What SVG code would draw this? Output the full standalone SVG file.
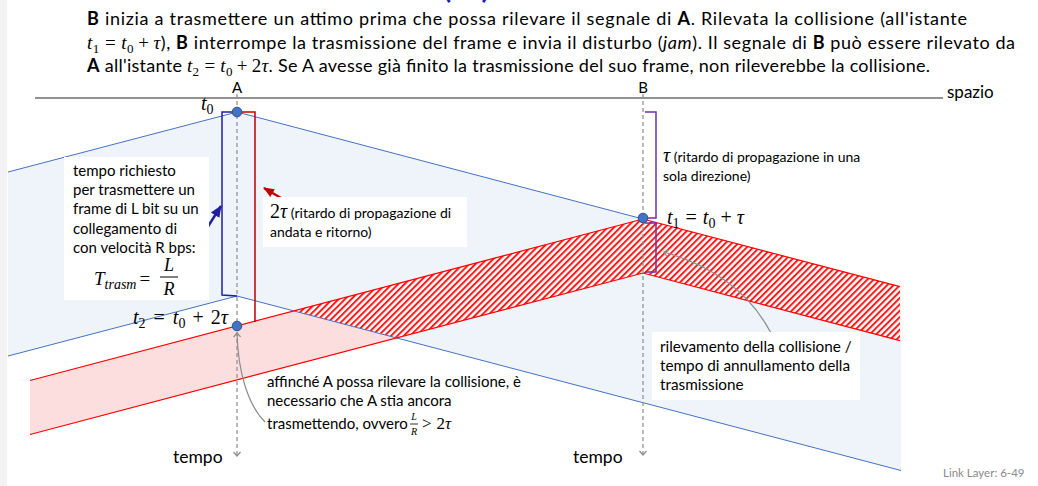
<svg xmlns="http://www.w3.org/2000/svg" width="1038" height="486" viewBox="0 0 1038 486">
<style>
.t{font-family:Lato,'Liberation Sans',sans-serif;fill:#000}
.b{font-weight:bold}
.m{font-family:'Liberation Serif','DejaVu Serif',serif;font-style:italic}
.mr{font-family:'Liberation Serif','DejaVu Serif',serif;font-style:normal}
.bl{stroke:#4472c4;stroke-width:1;fill:none}
.rd{stroke:#ff0000;stroke-width:1.2;fill:none}
.dash{stroke:#8c8c8c;stroke-width:1.2;stroke-dasharray:4 3;fill:none}
.gray{stroke:#8c8c8c;stroke-width:1.2;fill:none}
.dot{fill:#4472c4;stroke:#2f528f;stroke-width:1}
.box{fill:#ffffff}
.frag{font-family:Lato,'Liberation Sans',sans-serif;fill:#1f1fb0}
</style>
<defs>
<pattern id="hatch" patternUnits="userSpaceOnUse" width="4.5" height="4.5" patternTransform="rotate(45)">
<rect width="4.5" height="4.5" fill="#ffffff"/>
<rect width="2" height="4.5" fill="#ff1a1a"/>
</pattern>
<marker id="chev" markerWidth="10" markerHeight="10" refX="5" refY="5" orient="auto" markerUnits="userSpaceOnUse">
<path d="M1,1.5 L5,5 L1,8.5" fill="none" stroke="#8c8c8c" stroke-width="1.2"/>
</marker>
<marker id="navy" markerWidth="14" markerHeight="14" refX="11" refY="6" orient="auto" markerUnits="userSpaceOnUse">
<path d="M0,1 L12,6 L0,11 Z" fill="#1f1f9f"/>
</marker>
<marker id="dred" markerWidth="14" markerHeight="14" refX="10" refY="5.5" orient="auto" markerUnits="userSpaceOnUse">
<path d="M0,1 L11,5.5 L0,10 Z" fill="#c00000"/>
</marker>
</defs>
<rect width="1038" height="486" fill="#ffffff"/>
<rect x="0" y="0" width="7" height="486" fill="#f3f3f3"/>

<g id="title-fragments" font-size="40">
<text class="frag" x="196" y="-3">/</text>
<text class="frag" x="441" y="-3">(</text>
<text class="frag" x="481" y="-3">)</text>
</g>

<g id="intro" class="t" font-size="18">
<text x="87" y="25" textLength="880"><tspan class="b">B</tspan> inizia a trasmettere un attimo prima che possa rilevare il segnale di <tspan class="b">A</tspan>. Rilevata la collisione (all'istante</text>
<text x="87" y="49" textLength="928"><tspan class="m" font-size="19">t</tspan><tspan class="mr" font-size="13" dy="4">1</tspan><tspan class="mr" font-size="19" dy="-4" dx="5">=</tspan><tspan class="m" font-size="19" dx="5">t</tspan><tspan class="mr" font-size="13" dy="4">0</tspan><tspan class="mr" font-size="19" dy="-4" dx="4">+</tspan><tspan class="m" font-size="19" dx="4">τ</tspan>), <tspan class="b">B</tspan> interrompe la trasmissione del frame e invia il disturbo (<tspan font-style="italic">jam</tspan>). Il segnale di <tspan class="b">B</tspan> può essere rilevato da</text>
<text x="87" y="72" textLength="843"><tspan class="b">A</tspan> all'istante <tspan class="m" font-size="19">t</tspan><tspan class="mr" font-size="13" dy="4">2</tspan><tspan class="mr" font-size="19" dy="-4" dx="5">=</tspan><tspan class="m" font-size="19" dx="5">t</tspan><tspan class="mr" font-size="13" dy="4">0</tspan><tspan class="mr" font-size="19" dy="-4" dx="4">+</tspan><tspan class="mr" font-size="19" dx="4">2</tspan><tspan class="m" font-size="19">τ</tspan>. Se A avesse già finito la trasmissione del suo frame, non rileverebbe la collisione.</text>
</g>

<g id="axis">
<line x1="35" y1="98" x2="943" y2="98" stroke="#6e6e6e" stroke-width="1.6"/>
<text class="t" x="947" y="98" font-size="17">spazio</text>
</g>

<g id="frame-A-band">
<polygon points="8,172 237,112 901,286.5 901,470.5 237,296 8,356" fill="#eff3fa"/>
</g>

<g id="jam-B-band">
<polygon points="30,380.5 643,219 900,286.7 900,340.7 643,273 30,434.5" fill="#fddede"/>
<polygon points="293.3,310.8 643,219 900,286.7 900,340.7 643,273 396.2,337.8" fill="url(#hatch)"/>
</g>

<g id="connectors">
<polyline class="bl" points="8,172 237,112 643,219"/>
<polyline class="bl" points="8,356 237,296 901,470.5"/>
<polyline class="rd" points="30,380.5 643,219 900,286.7"/>
<polyline class="rd" points="30,434.5 643,273 900,340.7"/>
<line class="dash" x1="237" y1="94" x2="237" y2="456" marker-end="url(#chev)"/>
<line class="dash" x1="643" y1="94" x2="643" y2="455" marker-end="url(#chev)"/>
<polyline points="237,112 222,112 222,295 237,296" fill="none" stroke="#1f1f9f" stroke-width="1.5"/>
<polyline points="237,112 255,112 255,322" fill="none" stroke="#c00000" stroke-width="1.5"/>
<polyline points="645,112 656,112 656,218 645,218" fill="none" stroke="#7030a0" stroke-width="1.5"/>
<polyline points="645,223 656,223 656,272 645,272" fill="none" stroke="#7030a0" stroke-width="1.5"/>
<line x1="200" y1="239" x2="221" y2="206" stroke="#1f1f9f" stroke-width="2.4" marker-end="url(#navy)"/>
<line x1="281" y1="198" x2="264" y2="188" stroke="#c00000" stroke-width="2.2" marker-end="url(#dred)"/>
<path class="gray" d="M265,422 C248,405 238,372 237,333" marker-end="url(#chev)"/>
<path class="gray" d="M777,346 Q748,276 664,252" marker-end="url(#chev)"/>
</g>

<g id="node-A">
<text class="t" x="237" y="93" font-size="15" text-anchor="middle">A</text>
<circle class="dot" cx="237" cy="112" r="4.8"/>
<text x="201" y="110" font-size="20"><tspan class="m">t</tspan><tspan class="mr" font-size="14" dy="4">0</tspan></text>
</g>

<g id="node-B">
<text class="t" x="643" y="93" font-size="15" text-anchor="middle">B</text>
<circle class="dot" cx="643" cy="218" r="4.8"/>
<text x="667" y="224" font-size="20"><tspan class="m">t</tspan><tspan class="mr" font-size="14" dy="4">1</tspan><tspan class="mr" dy="-4" dx="6">=</tspan><tspan class="m" dx="6">t</tspan><tspan class="mr" font-size="14" dy="4">0</tspan><tspan class="mr" dy="-4" dx="5">+</tspan><tspan class="m" dx="5">τ</tspan></text>
</g>

<g id="node-t2">
<circle class="dot" cx="237" cy="326" r="4.8"/>
<text x="133" y="324" font-size="20"><tspan class="m">t</tspan><tspan class="mr" font-size="14" dy="4">2</tspan><tspan class="mr" dy="-4" dx="8">=</tspan><tspan class="m" dx="8">t</tspan><tspan class="mr" font-size="14" dy="4">0</tspan><tspan class="mr" dy="-4" dx="7">+</tspan><tspan class="mr" dx="7">2</tspan><tspan class="m">τ</tspan></text>
</g>

<g id="label-Ttrasm">
<rect class="box" x="64" y="157" width="145" height="143"/>
<text class="t" font-size="15">
<tspan x="73" y="176">tempo richiesto</tspan>
<tspan x="73" y="195">per trasmettere un</tspan>
<tspan x="73" y="214">frame di L bit su un</tspan>
<tspan x="73" y="234">collegamento di</tspan>
<tspan x="73" y="253">con velocità R bps:</tspan>
</text>
<text x="94" y="285" font-size="19"><tspan class="m">T</tspan><tspan class="m" font-size="14" dy="4">trasm</tspan><tspan class="mr" dy="-4" dx="3">=</tspan></text>
<text class="m" x="169" y="271" font-size="18" text-anchor="middle">L</text>
<line x1="160" y1="277" x2="178" y2="277" stroke="#000" stroke-width="1"/>
<text class="m" x="169" y="295" font-size="18" text-anchor="middle">R</text>
</g>

<g id="label-2tau">
<rect class="box" x="263" y="197" width="204" height="50"/>
<text x="270" y="218"><tspan class="mr" font-size="20">2</tspan><tspan class="m" font-size="20">τ</tspan><tspan class="t" font-size="14"> (ritardo di propagazione di</tspan></text>
<text class="t" x="270" y="237" font-size="14">andata e ritorno)</text>
</g>

<g id="label-tau">
<text x="663" y="162"><tspan class="m" font-size="20">τ</tspan><tspan class="t" font-size="14"> (ritardo di propagazione in una</tspan></text>
<text class="t" x="663" y="181" font-size="14">sola direzione)</text>
</g>

<g id="label-rilevamento">
<rect class="box" x="652" y="332" width="208" height="68"/>
<text class="t" font-size="15.3">
<tspan x="660" y="352">rilevamento della collisione /</tspan>
<tspan x="660" y="371">tempo di annullamento della</tspan>
<tspan x="660" y="390">trasmissione</tspan>
</text>
</g>

<g id="label-affinche">
<text class="t" font-size="15">
<tspan x="267" y="387">affinché A possa rilevare la collisione, è</tspan>
<tspan x="267" y="406">necessario che A stia ancora</tspan>
<tspan x="267" y="429">trasmettendo, ovvero</tspan>
</text>
<text class="m" x="414" y="420" font-size="10" text-anchor="middle">L</text>
<line x1="410" y1="424" x2="418" y2="424" stroke="#000" stroke-width="0.8"/>
<text class="m" x="414" y="435" font-size="10" text-anchor="middle">R</text>
<text x="422" y="429" font-size="17"><tspan class="mr">&gt;</tspan><tspan class="mr" dx="5">2</tspan><tspan class="m">τ</tspan></text>
</g>

<g id="time-labels">
<text class="t" x="173" y="463" font-size="17.5">tempo</text>
<text class="t" x="573" y="463" font-size="17.5">tempo</text>
</g>

<text x="943" y="477" font-size="11.5" style="fill:#8a8a8a;font-family:Lato,'Liberation Sans',sans-serif">Link Layer: 6-49</text>
</svg>
